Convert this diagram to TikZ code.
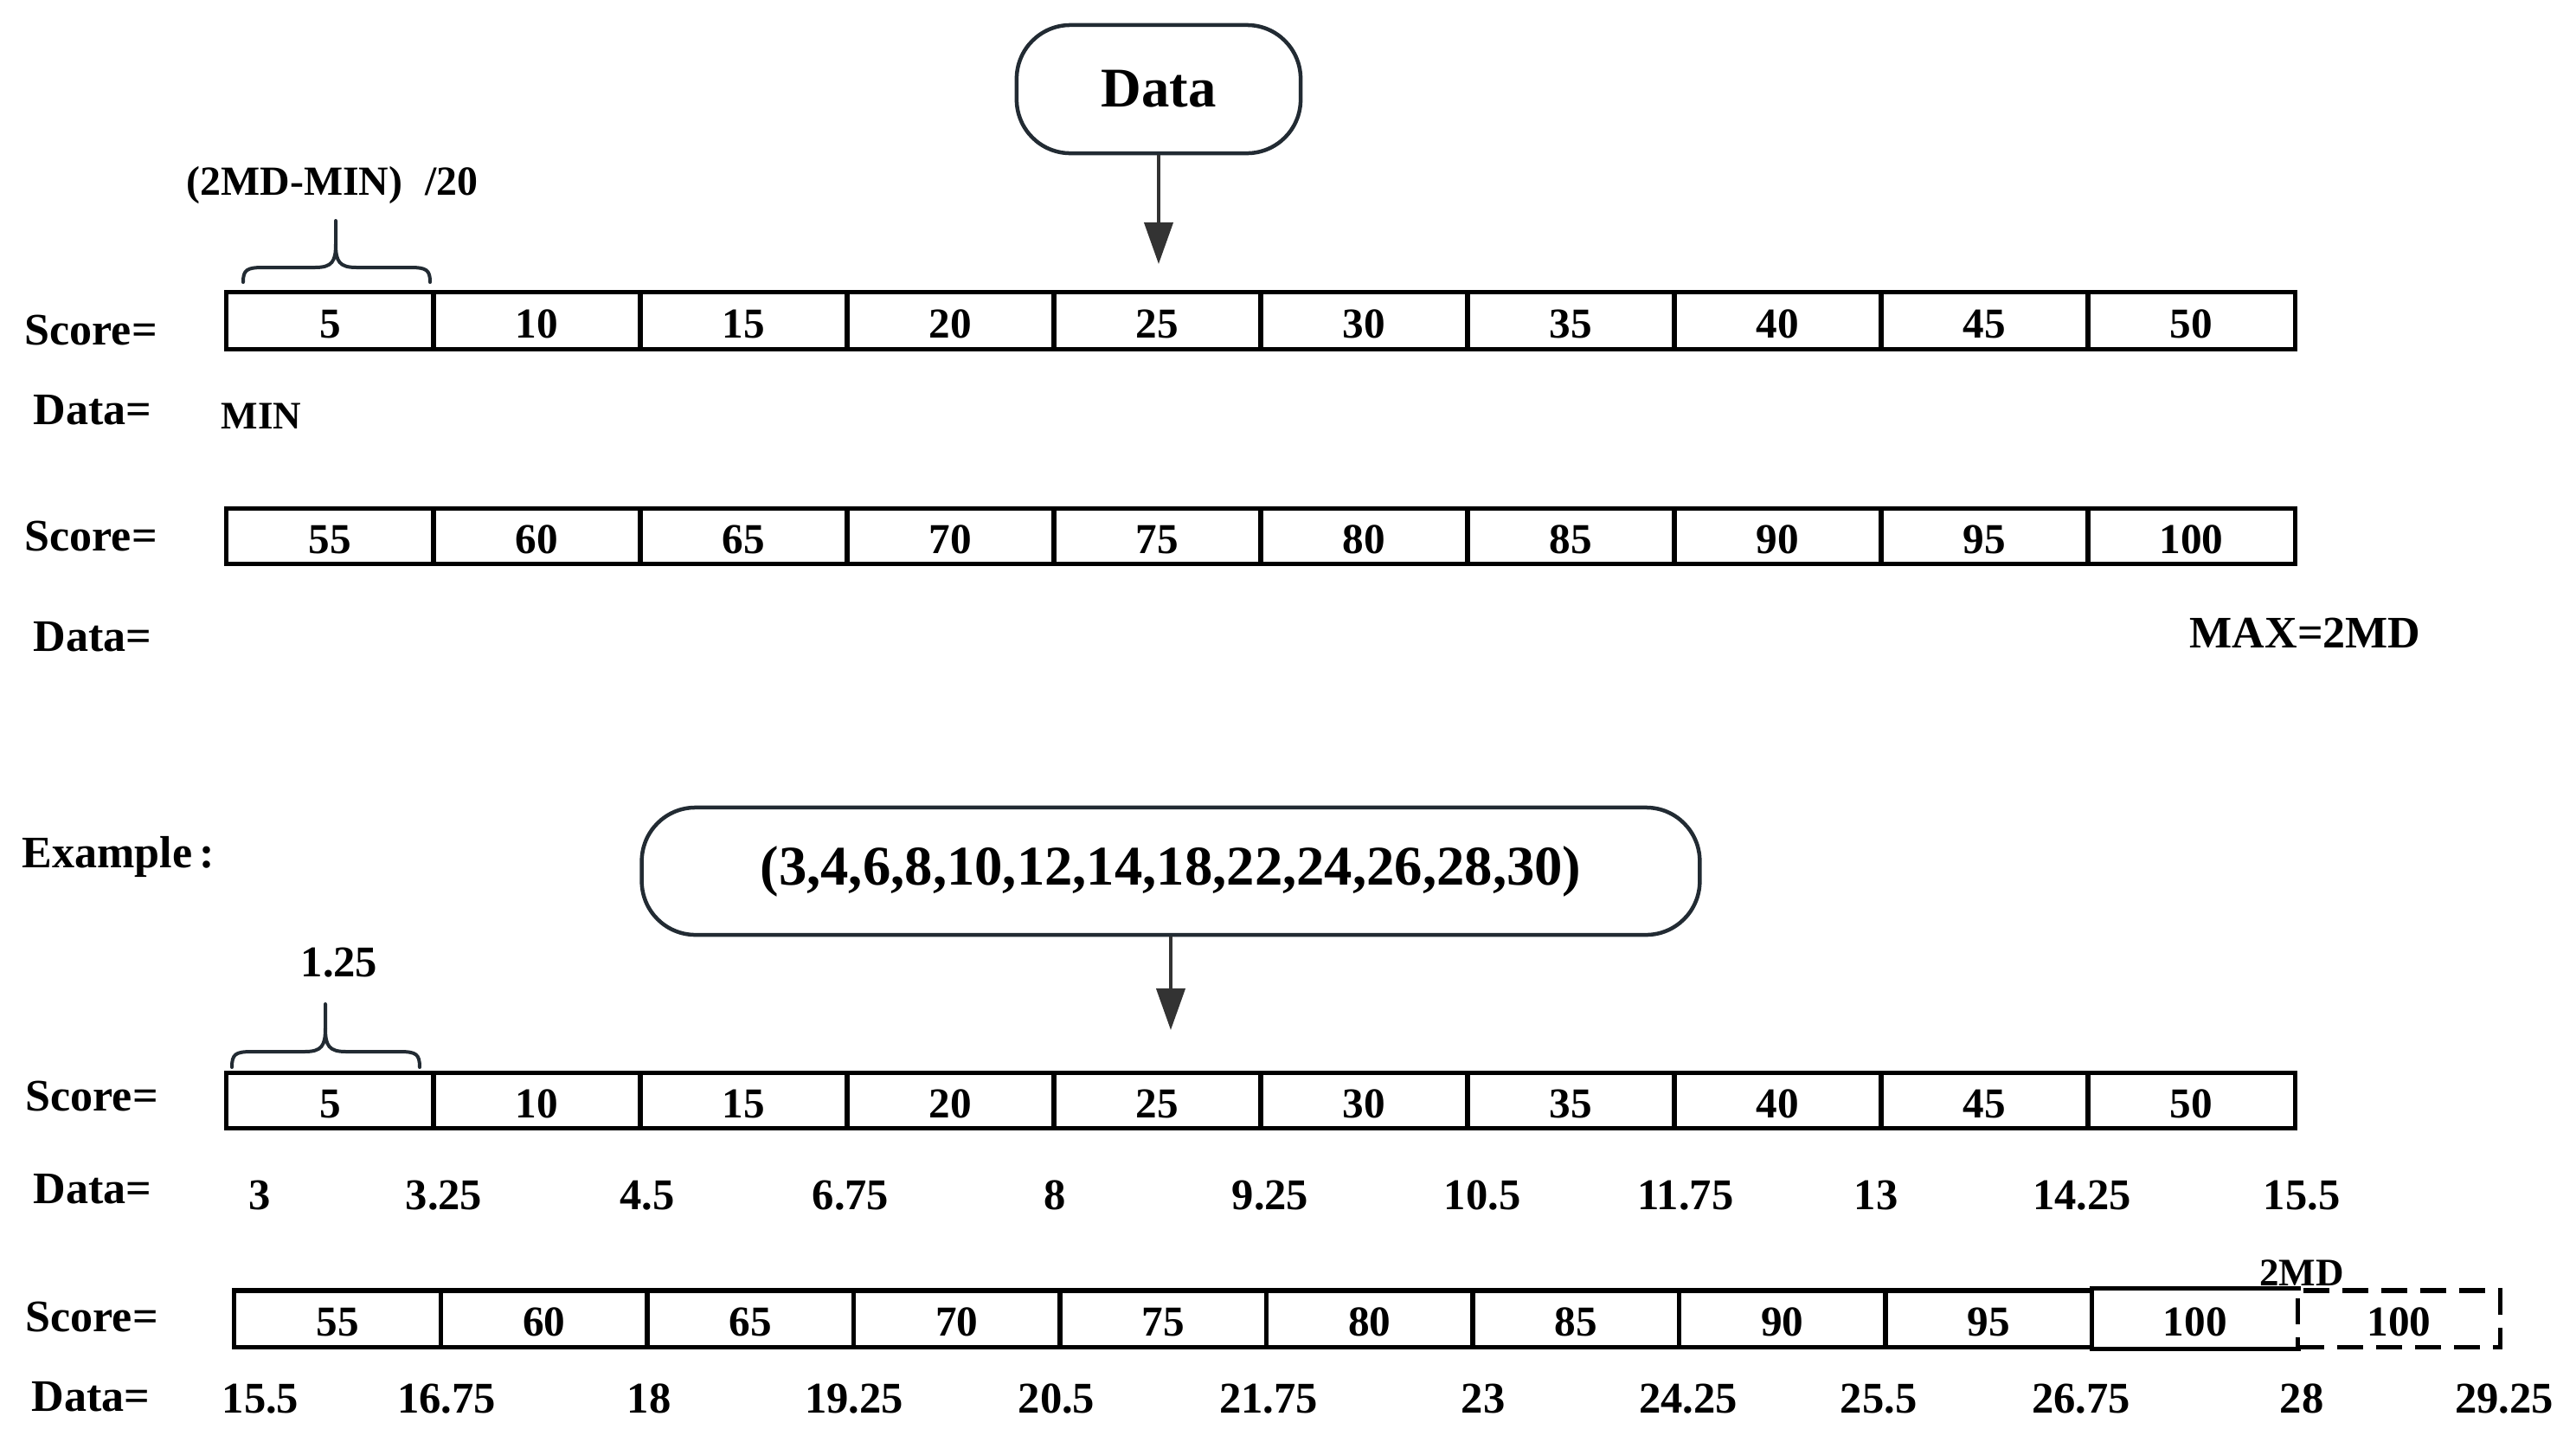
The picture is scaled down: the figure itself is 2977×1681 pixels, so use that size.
\documentclass[tikz,border=0pt]{standalone}
\usepackage{fontspec}
\setmainfont{Liberation Serif}
\usetikzlibrary{arrows.meta}
\definecolor{edgec}{HTML}{222B33}
\definecolor{arrowc}{HTML}{333333}
\begin{document}
\begin{tikzpicture}[x=0.01cm, y=-0.01cm,
  lbl/.style={inner sep=0, anchor=base west, font=\fontsize{14.8pt}{17pt}\selectfont\bfseries},
  val/.style={inner sep=0, anchor=base, font=\fontsize{14.4pt}{17pt}\selectfont\bfseries},
  small/.style={inner sep=0, font=\fontsize{12.8pt}{15pt}\selectfont\bfseries},
  cellbox/.style={draw, line width=0.05cm, minimum width=2.39cm, minimum height=0.65cm, inner sep=0,
    text height=11.2pt, text depth=0pt, font=\fontsize{14pt}{16pt}\selectfont\bfseries},
  cellnb/.style={cellbox, draw=none},
  dashcell/.style={cellbox, dash pattern=on 0.3cm off 0.15cm},
  pill/.style={draw=edgec, line width=0.045cm, rounded corners=0.62cm, fill=white, inner sep=0,
    font=\fontsize{18.4pt}{21pt}\selectfont\bfseries},
  arr/.style={draw=arrowc, line width=0.04cm, -{Triangle[length=0.48cm,width=0.33cm]}},
  bracel/.style={draw=edgec, line width=0.04cm, line cap=round}]
\useasboundingbox (0,0) rectangle (2977,1681);

% ---------------- top section ----------------
\node[pill, minimum width=3.28cm, minimum height=1.48cm] (datanode) at (1339,103) {Data};
\coordinate (tipA) at (1339,305);
\draw[arr] (datanode.south) -- (tipA);

\node[inner sep=0, anchor=base west, font=\fontsize{13.6pt}{16pt}\selectfont\bfseries] (formula) at (215,225) {(2MD-MIN)\hspace{0.55em}/20};
\draw[bracel] (281,326) .. controls (281,312) and (285,309) .. (304,309) -- (364,309)
  .. controls (384,309) and (388,302) .. (388,282) -- (388,255);
\draw[bracel] (497,326) .. controls (497,312) and (493,309) .. (474,309) -- (412,309)
  .. controls (392,309) and (388,302) .. (388,282);

\node[lbl] (scoreA) at (28,398) {Score=};
\foreach \v [count=\i] in {5,10,...,50}
  \node[cellbox] (a\i) at ({262+239*(\i-0.5)},370.5) {\v};
\node[lbl] (dataA) at (38,490) {Data=};
\node[small, anchor=base west] (minlbl) at (255,495) {MIN};

\node[lbl] (scoreB) at (28,636) {Score=};
\foreach \v [count=\i] in {55,60,...,100}
  \node[cellbox, minimum height=0.63cm] (b\i) at ({262+239*(\i-0.5)},619.5) {\v};
\node[lbl] (dataB) at (38,752) {Data=};
\node[lbl] (maxlbl) at (2530,748) {MAX=2MD};

% ---------------- example section ----------------
\node[lbl] (example) at (25,1002) {Example\,:};
\node[pill, minimum width=12.22cm, minimum height=1.47cm] (exnode) at (1353,1006.5) {(3,4,6,8,10,12,14,18,22,24,26,28,30)};
\coordinate (tipB) at (1353,1190);
\draw[arr] (exnode.south) -- (tipB);

\node[val] (step) at (392,1128) {1.25};
\draw[bracel] (268,1233) .. controls (268,1218) and (272,1215) .. (291,1215) -- (352,1215)
  .. controls (372,1215) and (376,1208) .. (376,1188) -- (376,1160);
\draw[bracel] (485,1233) .. controls (485,1218) and (481,1215) .. (462,1215) -- (400,1215)
  .. controls (380,1215) and (376,1208) .. (376,1188);

\node[lbl] (scoreC) at (29,1283) {Score=};
\foreach \v [count=\i] in {5,10,...,50}
  \node[cellbox, minimum height=0.63cm] (c\i) at ({262+239*(\i-0.5)},1271.5) {\v};
\node[lbl] (dataC) at (38,1390) {Data=};
\foreach \v/\x [count=\i] in {3/300,3.25/513,4.5/748,6.75/983,8/1219,9.25/1468,10.5/1713,11.75/1948,13/2168,14.25/2406,15.5/2660}
  \node[val] (cv\i) at (\x,1397) {\v};

\node[lbl] (scoreD) at (29,1538) {Score=};
\foreach \v [count=\i] in {55,60,...,95}
  \node[cellbox, minimum width=2.385cm] (d\i) at ({271+238.5*(\i-0.5)},1523.5) {\v};
\node[cellnb, minimum width=2.385cm] (d10) at ({271+238.5*9.5},1523.5) {100};
\draw[line width=0.05cm] (d10.north east) -- (d10.north west) (d10.south west) -- (d10.south east);
\node[dashcell, minimum width=2.33cm] (d11) at (2772.5,1523.5) {100};
\node[small, anchor=base] (twomd) at (2660,1485) {2MD};
\node[lbl] (dataD) at (36,1630) {Data=};
\foreach \v/\x [count=\i] in {15.5/301,16.75/516,18/750,19.25/987,20.5/1221,21.75/1466,23/1714,24.25/1951,25.5/2171,26.75/2405,28/2660,29.25/2894}
  \node[val] (dv\i) at (\x,1632) {\v};
\end{tikzpicture}
\end{document}
